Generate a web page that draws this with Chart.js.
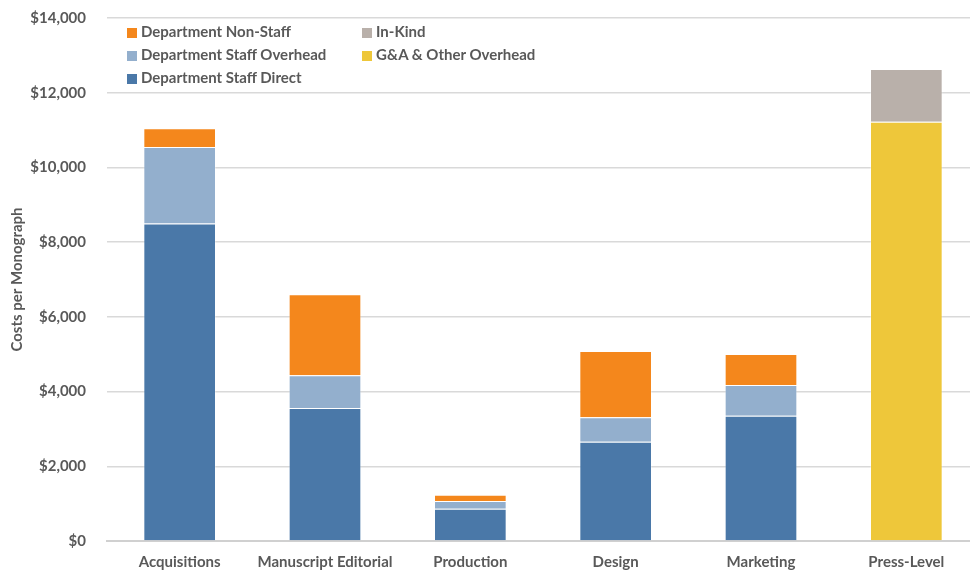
<!DOCTYPE html>
<html>
<head>
<meta charset="utf-8">
<script src="https://cdn.jsdelivr.net/npm/chart.js@4"></script>
<style>
    html, body { margin: 0; padding: 0; background: #fff; overflow: hidden; }
    #wrap { position: relative; width: 980px; height: 574px; }
    #legend { position: absolute; left: 127px; top: 22px; font: bold 15px Lato, sans-serif; color: #595959; }
    .item { position: absolute; white-space: nowrap; line-height: 18px; }
    .item span { display: inline-block; width: 10px; height: 10px; margin-right: 4px; vertical-align: -1px; }
</style>
</head>
<body>
<div id="wrap">
    <canvas id="barChart" width="980" height="574"></canvas>
    <div id="legend"></div>
</div>
<script>
// Chart data
const categories = ['Acquisitions', 'Manuscript Editorial', 'Production', 'Design', 'Marketing', 'Press-Level'];
const staffDirect = [8500, 3560, 865, 2660, 3355, null];
const staffOverhead = [2050, 875, 205, 650, 820, null];
const nonStaff = [500, 2170, 170, 1775, 830, null];
const gaOverhead = [null, null, null, null, null, 11225];
const inKind = [null, null, null, null, null, 1410];
const yTicks = [0, 2000, 4000, 6000, 8000, 10000, 12000, 14000];

const textColor = '#595959';
const fontFamily = 'Lato, sans-serif';

const datasets = [
    { label: 'Department Staff Direct', data: staffDirect, backgroundColor: '#4a78a8' },
    { label: 'Department Staff Overhead', data: staffOverhead, backgroundColor: '#93afcd' },
    { label: 'Department Non-Staff', data: nonStaff, backgroundColor: '#f4871c' },
    { label: 'G&A & Other Overhead', data: gaOverhead, backgroundColor: '#eec73a' },
    { label: 'In-Kind', data: inKind, backgroundColor: '#b9b0aa' }
];
datasets.forEach(ds => {
    ds.borderColor = 'rgba(255,255,255,0.3)';
    ds.borderWidth = 1;
    ds.categoryPercentage = 0.5;
    ds.barPercentage = 1;
});

// Legend laid out like the original (two columns)
const legendSlots = [
    ['Department Non-Staff', 0, 0], ['In-Kind', 235, 0],
    ['Department Staff Overhead', 0, 23], ['G&A & Other Overhead', 235, 23],
    ['Department Staff Direct', 0, 46]
];
const legend = document.getElementById('legend');
legendSlots.forEach(([label, x, y]) => {
    const ds = datasets.find(d => d.label === label);
    const div = document.createElement('div');
    div.className = 'item';
    div.style.left = x + 'px';
    div.style.top = y + 'px';
    div.innerHTML = '<span style="background:' + ds.backgroundColor + '"></span>' + label.replace(/&/g, '&amp;');
    legend.appendChild(div);
});

const ctx = document.getElementById('barChart').getContext('2d');
new Chart(ctx, {
    type: 'bar',
    data: { labels: categories, datasets: datasets },
    options: {
        responsive: false,
        animation: false,
        layout: { padding: { top: 18, right: 1, left: 0, bottom: 0 } },
        plugins: { legend: { display: false }, tooltip: { enabled: false } },
        scales: {
            x: {
                stacked: true,
                grid: { display: false, drawTicks: false },
                border: { color: '#d0d0d0', width: 2 },
                ticks: { color: textColor, font: { family: fontFamily, size: 15, weight: 'bold' }, padding: 12 },
                afterFit: scale => { scale.height = 33; }
            },
            y: {
                stacked: true,
                min: 0,
                max: 14000,
                afterBuildTicks: scale => { scale.ticks = yTicks.map(v => ({ value: v })); },
                grid: { color: '#d9d9d9', lineWidth: 1.5, drawTicks: false },
                border: { display: false },
                ticks: {
                    color: textColor,
                    font: { family: fontFamily, size: 15, weight: 'bold' },
                    padding: 21,
                    callback: v => '$' + v.toLocaleString('en-US')
                },
                title: {
                    display: true,
                    text: 'Costs per Monograph',
                    color: textColor,
                    font: { family: fontFamily, size: 15, weight: 'bold' },
                    padding: { top: 8, bottom: 0 }
                },
                afterFit: scale => {
                    scale.width = 107;
                    // tick padding would otherwise push the plot down
                    scale.paddingTop = 0;
                    scale.paddingBottom = 0;
                }
            }
        }
    }
});
</script>
</body>
</html>
